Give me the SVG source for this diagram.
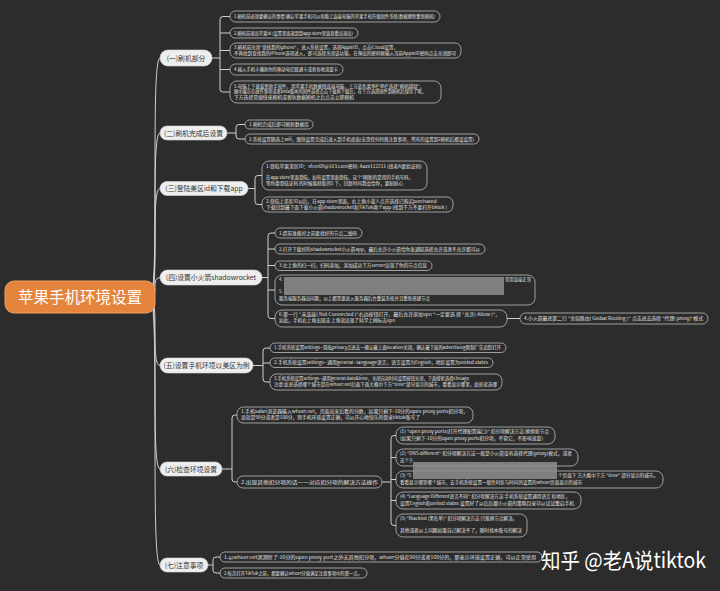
<svg xmlns="http://www.w3.org/2000/svg" width="720" height="591" viewBox="0 0 720 591">
<style>
.bg{fill:#2c2c2c}
.box{fill:#2c2c2c;stroke:#bcbcbc;stroke-width:0.8}
.t{font-family:"Noto Sans CJK SC","Liberation Sans",sans-serif;font-size:4.4px;fill:#e4e4e4}
.lr{fill:#eeeeee;stroke:#d8d8d8;stroke-width:0.6}
.lt{font-family:"Noto Sans CJK SC","Liberation Sans",sans-serif;font-size:6.8px;fill:#333333;text-anchor:middle}
.con{fill:none;stroke:#cfcfcf;stroke-width:1}
.red{fill:#8e8e8e;opacity:0.85}
</style>
<rect class="bg" x="0" y="0" width="720" height="591"/>

<g id="connectors">
<path class="con" d="M150,297 C160,297 150,58 160,58"/>
<path class="con" d="M150,297 C160,297 150,133 160,133"/>
<path class="con" d="M150,297 C160,297 150,188.5 160,188.5"/>
<path class="con" d="M150,297 C160,297 150,277.5 160,277.5"/>
<path class="con" d="M150,297 C160,297 150,365.5 160,365.5"/>
<path class="con" d="M150,297 C160,297 150,469 160,469"/>
<path class="con" d="M150,297 C160,297 150,565 160,565"/>

<path class="con" d="M212,58 H220 M220,58 V19.5 Q220,16.5 223,16.5 H230 M220,33 Q220,33 223,33 H230 M220,50.5 H230 M220,58 V89 Q220,92 223,92 H230 M220,69.5 H230"/>
<path class="con" d="M227,133 H236 M236,133 V127.5 Q236,124.5 239,124.5 H245 M236,133 V136 Q236,139 239,139 H245"/>
<path class="con" d="M248,188.5 H255 M255,188.5 V178.5 Q255,175.5 258,175.5 H262 M255,188.5 V201.5 Q255,204.5 258,204.5 H262"/>
<path class="con" d="M262,277.5 H268 M268,277.5 V236 Q268,233 271,233 H275 M268,249 H275 M268,265.5 H275 M268,277.5 V315.5 Q268,318.5 271,318.5 H275 M268,290 H275 M507,318.5 H520"/>
<path class="con" d="M253,365.5 H263 M263,365.5 V351 Q263,348 266,348 H270 M263,363 H270 M263,365.5 V379 Q263,382 266,382 H270"/>
<path class="con" d="M222,469 H232 M232,469 V418 Q232,415 235,415 H237 M232,469 V479 Q232,482 235,482 H237"/>
<path class="con" d="M382,482 H391 M391,482 V438.5 Q391,435.5 394,435.5 H396 M391,457.5 H396 M391,479.5 H396 M391,482 V522.5 Q391,525.5 394,525.5 H396 M391,500.5 H396"/>
<path class="con" d="M208,565 H213 M213,565 V560 Q213,557 216,557 H220 M213,565 V570 Q213,573 216,573 H220"/>
</g>

<g id="root">
<rect x="5" y="281" width="150" height="32" rx="9" fill="#e5853d" stroke="#f0a060" stroke-width="1"/>
<text x="80" y="302.5" text-anchor="middle" font-family="Noto Sans CJK SC,sans-serif" font-size="15.5" fill="#ffffff">苹果手机环境设置</text>
</g>

<g id="s1">
<rect class="lr" x="160" y="50" width="52" height="16" rx="8"/>
<text class="lt" x="186" y="60.5">(一)刷机部分</text>
</g>
<g id="s1-1"><rect class="box" x="230" y="11" width="210" height="11" rx="5.5"/>
<text class="t" x="234" y="18.2" textLength="201" lengthAdjust="spacingAndGlyphs">1.刷机前必须要确认的事情:确认苹果手机可以和能上连接电脑的苹果手机升级固件系统(数据擦除重新刷机)</text></g>
<g id="s1-2"><rect class="box" x="230" y="28" width="128" height="10" rx="5"/>
<text class="t" x="234" y="34.6" textLength="119" lengthAdjust="spacingAndGlyphs">2.刷机前退出苹果id (设置里面退到到app store里面查看出退出)</text></g>
<g id="s1-3"><rect class="box" x="230" y="43" width="231" height="15" rx="6"/>
<text class="t" x="234" y="49" textLength="164" lengthAdjust="spacingAndGlyphs">3.刷机前关闭"查找我的iphone"，进入系统设置，选择AppleID，点击iCloud设置，</text>
<text class="t" x="234" y="55" textLength="222" lengthAdjust="spacingAndGlyphs">不再找到查找我的iPhone选项进入，即可选择关闭该功能，在弹出的密码框输入当前AppleID密码点击关闭即可</text></g>
<g id="s1-4"><rect class="box" x="230" y="64" width="113" height="11" rx="5.5"/>
<text class="t" x="234" y="71.2" textLength="104" lengthAdjust="spacingAndGlyphs">4.插入手机卡播放你的移动电信联通卡或者各地流量卡</text></g>
<g id="s1-5"><rect class="box" x="230" y="81" width="211" height="22" rx="7"/>
<text class="t" x="234" y="87.5" textLength="190" lengthAdjust="spacingAndGlyphs">5.电脑上下载爱思助手软件，用苹果手机数据线连接电脑，上方蓝色菜单栏单栏选择"刷机越狱"，</text>
<text class="t" x="234" y="93.3" textLength="192" lengthAdjust="spacingAndGlyphs">图中展示在操作事项或者beta版本的固件选择点击下载再下载后，在下方选择固件到刷机后保存了呢，</text>
<text class="t" x="234" y="99.1" textLength="120" lengthAdjust="spacingAndGlyphs">下方选择常规快速刷机或者防数据刷机之后点击立即刷机</text></g>

<g id="s2">
<rect class="lr" x="160" y="126" width="67" height="14" rx="7"/>
<text class="lt" x="193.5" y="135.5">(二)刷机完成后设置</text>
</g>
<g id="s2-1"><rect class="box" x="245" y="120" width="68" height="9" rx="4.5"/>
<text class="t" x="249" y="126.2" textLength="60" lengthAdjust="spacingAndGlyphs">1.刷机完成后即可刷新数据库</text></g>
<g id="s2-2"><rect class="box" x="245" y="134" width="234" height="10" rx="5"/>
<text class="t" x="249" y="140.6" textLength="225" lengthAdjust="spacingAndGlyphs">2.系统设置随选上wifi，跟快设置完成后进入到手机桌面(无需任何特殊注意事项，所有的设置到2刷机后都设设置)</text></g>

<g id="s3">
<rect class="lr" x="160" y="181.5" width="88" height="14" rx="7"/>
<text class="lt" x="204" y="191">(三)登陆美区id和下载app</text>
</g>
<g id="s3-1"><rect class="box" x="262" y="161" width="165" height="29" rx="7"/>
<text class="t" x="266" y="167.5" textLength="156" lengthAdjust="spacingAndGlyphs">1.登陆苹果美区ID：xfcm09@163.com密码: Aazz112211 (找老A要验证码)</text>
<text class="t" x="266" y="179" textLength="147" lengthAdjust="spacingAndGlyphs">在app store里面登陆，如有设置里面登陆，这个3刷新的是用的手机号码，</text>
<text class="t" x="266" y="184.8" textLength="137" lengthAdjust="spacingAndGlyphs">等你要登陆证码 的时候能获取的5 下，回复时间我会给你，要耐耐心</text></g>
<g id="s3-2"><rect class="box" x="262" y="197" width="191" height="15" rx="6"/>
<text class="t" x="266" y="203" textLength="172" lengthAdjust="spacingAndGlyphs">2.登陆上美区ID以后，在app store里面，右上角小蓝人点开选择已购买purchased-</text>
<text class="t" x="266" y="209" textLength="181" lengthAdjust="spacingAndGlyphs">下载回到最下面下载小火箭shadowrocket和TikTok两个app (找到千万不要打开tiktok )</text></g>

<g id="s4">
<rect class="lr" x="160" y="270" width="102" height="15" rx="7.5"/>
<text class="lt" x="211" y="280">(四)设置小火箭shadowrocket</text>
</g>
<g id="s4-1"><rect class="box" x="275" y="228" width="87" height="10" rx="5"/>
<text class="t" x="279" y="234.6" textLength="78" lengthAdjust="spacingAndGlyphs">1.提前准备好之前要找好的节点二维码</text></g>
<g id="s4-2"><rect class="box" x="275" y="244" width="210" height="10" rx="5"/>
<text class="t" x="279" y="250.6" textLength="201" lengthAdjust="spacingAndGlyphs">2.打开下载好的shadowrocket小火箭app，最后允许小火箭给你发通知选择允许或者不允许都可以</text></g>
<g id="s4-3"><rect class="box" x="275" y="261" width="157" height="9.5" rx="4.75"/>
<text class="t" x="279" y="267.3" textLength="148" lengthAdjust="spacingAndGlyphs">3.左上角的扫一扫，扫码添加，添加成功下方server出现了你的节点信息</text></g>
<g id="s4-4"><rect class="box" x="275" y="275" width="260" height="30" rx="7"/>
<text class="t" x="279" y="281">4.</text>
<text class="t" x="505" y="281" textLength="26" lengthAdjust="spacingAndGlyphs">常用连接正常</text>
<text class="t" x="279" y="293">5.</text>
<text class="t" x="279" y="300" textLength="151" lengthAdjust="spacingAndGlyphs">服务端服务器出问题，以上都需要进入服务器后台重装系统并且重新搭建节点</text>
<rect class="red" x="284" y="277" width="220" height="18"/></g>
<g id="s4-6"><rect class="box" x="275" y="310" width="232" height="17" rx="7"/>
<text class="t" x="279" y="316" textLength="221" lengthAdjust="spacingAndGlyphs">6.第一行 "未连接( Not Connected )"右边按钮打开，最后允许添加vpn "一定要选 择 "允许( Allow )"，</text>
<text class="t" x="279" y="322.3" textLength="116" lengthAdjust="spacingAndGlyphs">如此，手机右上角出现这 上角就出现了科学上网标志vpn</text></g>
<g id="s4-6a"><rect class="box" x="520" y="313" width="188" height="11" rx="5.5"/>
<text class="t" x="524" y="320.1" textLength="179" lengthAdjust="spacingAndGlyphs">4.小火箭最底第二行 "全局路由( Global Routing )" 点击进去选择 "代理( proxy)"模式</text></g>

<g id="s5">
<rect class="lr" x="160" y="358" width="93" height="15" rx="7.5"/>
<text class="lt" x="206.5" y="368">(五)设置手机环境以美区为例</text>
</g>
<g id="s5-1"><rect class="box" x="270" y="343" width="236" height="9.5" rx="4.75"/>
<text class="t" x="274" y="349.4" textLength="227" lengthAdjust="spacingAndGlyphs">1.手机系统设置settings--隐私privacy点进去一确认最上面location关闭，确认最下面的advertising限制广告追踪打开</text></g>
<g id="s5-2"><rect class="box" x="270" y="358" width="223" height="9.5" rx="4.75"/>
<text class="t" x="274" y="364.4" textLength="214" lengthAdjust="spacingAndGlyphs">2.手机系统设置settings--通用general--language语言，语言设置为English，地区设置为united states</text></g>
<g id="s5-3"><rect class="box" x="270" y="374" width="232" height="16" rx="6.5"/>
<text class="t" x="274" y="380" textLength="195" lengthAdjust="spacingAndGlyphs">3.手机系统设置settings--通用general date&amp;time，关闭自动时间设置按钮关闭，下面搜索选择chicago</text>
<text class="t" x="274" y="386.3" textLength="223" lengthAdjust="spacingAndGlyphs">注意:此处选择哪个城市是在whoer.net后面下面大概中下方"time"部分显示的城市，看看显示哪里，此处就选哪</text></g>

<g id="s6">
<rect class="lr" x="160" y="462" width="62" height="14" rx="7"/>
<text class="lt" x="191" y="471.5">(六)检查环境设置</text>
</g>
<g id="s6-1"><rect class="box" x="237" y="407" width="236" height="16" rx="6.5"/>
<text class="t" x="241" y="413" textLength="227" lengthAdjust="spacingAndGlyphs">1.手机safari浏览器输入whoer.net，页面出来后看的分数，如果只剩下-10分的open proxy ports扣分项，</text>
<text class="t" x="241" y="419.3" textLength="179" lengthAdjust="spacingAndGlyphs">说就是90分或者是100分，则手机环境设置正确，可以开心地快乐的登录tiktok账号了</text></g>
<g id="s6-2"><rect class="box" x="237" y="476" width="145" height="12" rx="6"/>
<text class="t" x="241" y="483.5" textLength="137" lengthAdjust="spacingAndGlyphs">2.出现其他扣分项的话一一对应扣分项的解决方法操作</text></g>
<g id="s6-2-1"><rect class="box" x="396" y="427" width="159" height="17" rx="7"/>
<text class="t" x="400" y="433.2" textLength="149" lengthAdjust="spacingAndGlyphs">(1) "open proxy ports(打开代理配置端口)" 扣分项解决方法:换换新节点</text>
<text class="t" x="400" y="439.6" textLength="143" lengthAdjust="spacingAndGlyphs">(如果只剩下-10分的open proxy ports扣分项，不管它，不影响流量)</text></g>
<g id="s6-2-2"><rect class="box" x="396" y="449" width="182" height="17" rx="7"/>
<text class="t" x="400" y="455.2" textLength="172" lengthAdjust="spacingAndGlyphs">(2) "DNS different" 扣分项解决方法一般是小火箭没有选择代理(proxy)模式，或者</text>
<text class="t" x="400" y="461.6">这个于</text></g>
<g id="s6-2-3"><rect class="box" x="396" y="471" width="267" height="17" rx="7"/>
<text class="t" x="400" y="477.2">(3) "S</text>
<text class="t" x="558" y="477.2" textLength="100" lengthAdjust="spacingAndGlyphs">个页面下 方大概中下方 "time" 部分显示的城市。</text>
<text class="t" x="400" y="483.6" textLength="182" lengthAdjust="spacingAndGlyphs">看看显示哪里哪个城市，去手机系统设置一般性时区与时间的设置的whoer页面显示的城市</text></g>
<rect class="red" x="413" y="462" width="144" height="17"/>
<g id="s6-2-4"><rect class="box" x="396" y="492" width="185" height="17" rx="7"/>
<text class="t" x="400" y="498.2" textLength="170" lengthAdjust="spacingAndGlyphs">(4) "Language Different语言不同" 扣分项解决方法:手机系统设置通用语言 和地区，</text>
<text class="t" x="400" y="504.6" textLength="174" lengthAdjust="spacingAndGlyphs">设置English和united states 设置好了以后后都小火箭的策略目录可以试试重启手机</text></g>
<g id="s6-2-5"><rect class="box" x="396" y="514" width="131" height="23" rx="7"/>
<text class="t" x="400" y="520.2" textLength="117" lengthAdjust="spacingAndGlyphs">(5) "Blacklist (黑名单)" 扣分项解决方法:只能换节点解决。</text>
<text class="t" x="400" y="532.4" textLength="122" lengthAdjust="spacingAndGlyphs">其他或者以上问题如果自己解决不了，随时找本账号的解决</text></g>

<g id="s7">
<rect class="lr" x="160" y="558" width="48" height="14" rx="7"/>
<text class="lt" x="184" y="567.5">(七)注意事项</text>
</g>
<g id="s7-1"><rect class="box" x="220" y="552" width="322" height="10" rx="5"/>
<text class="t" x="224" y="558.6" textLength="312" lengthAdjust="spacingAndGlyphs">1.以whoer.net测测除了-10分的open proxy port之外无其他扣分项，whoer分值在90分或者100分的，那表示环境设置正确，可以正常使用</text></g>
<g id="s7-2"><rect class="box" x="220" y="568" width="147" height="10" rx="5"/>
<text class="t" x="224" y="574.6" textLength="138" lengthAdjust="spacingAndGlyphs">2.每次打开TikTok之前，都要确认whoer分值满足注意事项中的第一点。</text></g>

<text x="541" y="568" font-family="Noto Sans CJK SC,sans-serif" font-size="21" fill="#ffffff" textLength="165" lengthAdjust="spacingAndGlyphs">知乎 @老A说tiktok</text>
</svg>
